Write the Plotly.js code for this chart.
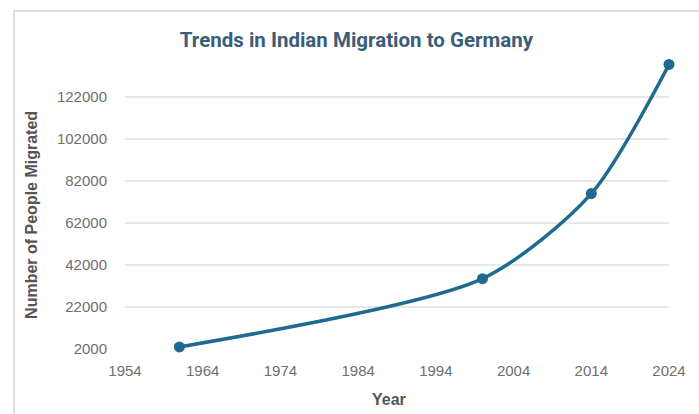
<!DOCTYPE html>
<html>
<head>
<meta charset="utf-8">
<script src="https://cdn.plot.ly/plotly-3.0.1.min.js"></script>
<style>
  html, body { margin: 0; padding: 0; background: #ffffff; }
  #wrap { position: relative; width: 699px; height: 414px; }
  #chart { width: 699px; height: 414px; }
  #frame { position: absolute; left: 13px; top: 10px; right: 0; bottom: 0;
           border-top: 2px solid #dcdcdc; border-left: 2px solid #dcdcdc; pointer-events: none; }
</style>
</head>
<body>
<div id="wrap">
  <div id="chart"></div>
  <div id="frame"></div>
</div>
<script>
const years = [1961, 2000, 2014, 2024];
const migrants = [3000, 35500, 76000, 137500];
const xTickVals = [1954, 1964, 1974, 1984, 1994, 2004, 2014, 2024];
const yTickVals = [2000, 22000, 42000, 62000, 82000, 102000, 122000];
const chartTitle = 'Trends in Indian Migration to Germany';
const xTitle = 'Year';
const yTitle = 'Number of People Migrated';

const lineColor = '#1f6a8f';
const tickFont = { family: 'Liberation Sans, Arial, sans-serif', size: 15, color: '#6e6e6e' };
const axisTitleFont = { family: 'Liberation Sans, Arial, sans-serif', size: 16, color: '#555555' };

const trace = {
  x: years,
  y: migrants,
  type: 'scatter',
  mode: 'lines+markers',
  line: { color: lineColor, width: 3.5, shape: 'spline', smoothing: 0.75 },
  marker: { color: lineColor, size: 11 },
  cliponaxis: false,
  hoverinfo: 'x+y'
};

const layout = {
  width: 699,
  height: 414,
  margin: { l: 125, r: 30, t: 55, b: 65 },
  paper_bgcolor: '#ffffff',
  plot_bgcolor: '#ffffff',
  showlegend: false,
  title: {
    text: '<b>' + chartTitle + '</b>',
    font: { family: 'Liberation Sans Narrow, Roboto, Arial, sans-serif', size: 20.5, color: '#3a5d78' },
    xref: 'container', x: 0.51, xanchor: 'center',
    yref: 'container', y: 0.905, yanchor: 'middle'
  },
  xaxis: {
    range: [1954, 2024],
    tickvals: xTickVals,
    ticktext: xTickVals.map(String),
    showgrid: false,
    zeroline: false,
    showline: false,
    ticks: 'outside', ticklen: 8, tickcolor: 'rgba(0,0,0,0)',
    tickfont: tickFont
  },
  yaxis: {
    range: [2000, 142000],
    tickvals: yTickVals,
    ticktext: yTickVals.map(String),
    showgrid: true,
    gridcolor: '#e8e8e8',
    gridwidth: 1.5,
    zeroline: false,
    showline: false,
    ticks: 'outside', ticklen: 14, tickcolor: 'rgba(0,0,0,0)',
    tickfont: tickFont
  },
  annotations: [
    {
      text: '<b>' + xTitle + '</b>',
      font: axisTitleFont,
      xref: 'paper', x: 0.485, xanchor: 'center',
      yref: 'paper', y: -0.173, yanchor: 'middle',
      showarrow: false
    },
    {
      text: '<b>' + yTitle + '</b>',
      font: axisTitleFont,
      textangle: -90,
      xref: 'paper', x: -0.171, xanchor: 'center',
      yref: 'paper', y: 0.456, yanchor: 'middle',
      showarrow: false
    }
  ]
};

Plotly.newPlot('chart', [trace], layout, { displayModeBar: false, staticPlot: true });
</script>
</body>
</html>
